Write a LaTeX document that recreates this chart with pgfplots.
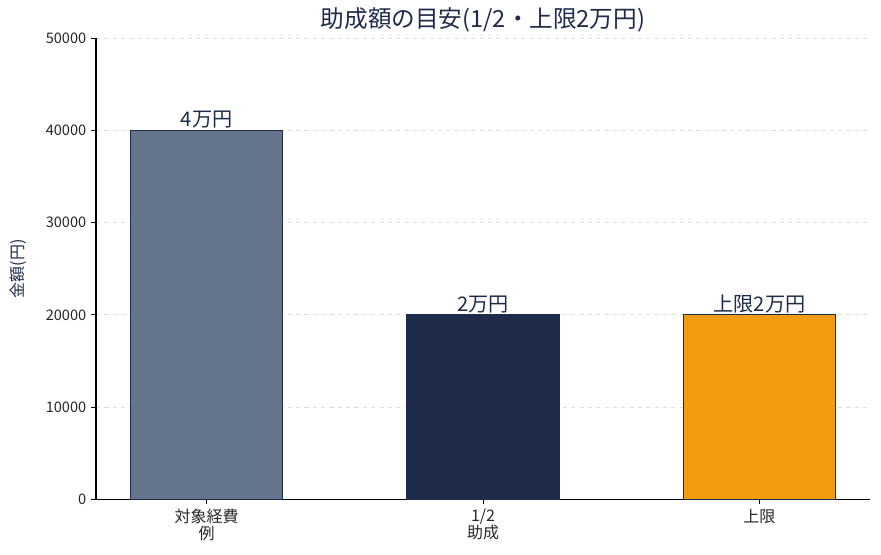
\documentclass[border=0pt]{standalone}
\usepackage{fontspec}
\setmainfont{Noto Sans CJK JP}
\usepackage{pgfplots}
\pgfplotsset{compat=1.18}

\definecolor{navy}{HTML}{1E2B4A}
\definecolor{slate}{HTML}{64748B}
\definecolor{amber}{HTML}{F39C12}
\definecolor{gridgray}{HTML}{DDDDDD}

\begin{document}
\begin{tikzpicture}
    \begin{axis}[
        name=ax,
        scale only axis,
        width=557pt, height=332pt,
        xmin=-0.4, xmax=2.4,
        ymin=0, ymax=50000,
        axis lines=left,
        axis line style={-, line width=0.75pt},
        tick align=outside,
        major tick length=3.5pt,
        tick style={black, line width=0.75pt},
        xtick={0,1,2},
        xticklabels={{対象経費\\例},{1/2\\助成},上限},
        xticklabel style={align=center, font=\fontsize{11.5}{12}\selectfont, text=black!85},
        ytick={0,10000,20000,30000,40000,50000},
        yticklabel style={font=\fontsize{10.5}{12}\selectfont, text=black!85},
        scaled y ticks=false,
        /pgf/number format/fixed,
        /pgf/number format/1000 sep={},
        /pgf/number format/assume math mode=true,
        ymajorgrids,
        grid style={gridgray, dashed, line width=0.6pt},
        title={助成額の目安(1/2・上限2万円)},
        title style={font=\fontsize{17}{18}\selectfont, text=navy, yshift=-5pt},
        ylabel={金額(円)},
        ylabel style={font=\fontsize{11.5}{12}\selectfont, text=navy, yshift=7pt},
        ybar, bar shift=0pt, bar width=0.55,
        point meta=explicit symbolic,
        nodes near coords={\pgfplotspointmeta},
        nodes near coords style={font=\fontsize{14.5}{15}\selectfont, text=navy, inner sep=1pt},
        every axis plot/.append style={draw=navy, line width=0.9pt},
        ]
        \addplot[fill=slate] coordinates {(0,40000) [4万円]};
        \addplot[fill=navy] coordinates {(1,20000) [2万円]};
        \addplot[fill=amber] coordinates {(2,20000) [上限2万円]};
    \end{axis}
    \pgfresetboundingbox
    \path ([shift={(-69.1pt,-39.6pt)}]ax.south west) rectangle ([shift={(7.9pt,27.4pt)}]ax.north east);
\end{tikzpicture}
\end{document}
